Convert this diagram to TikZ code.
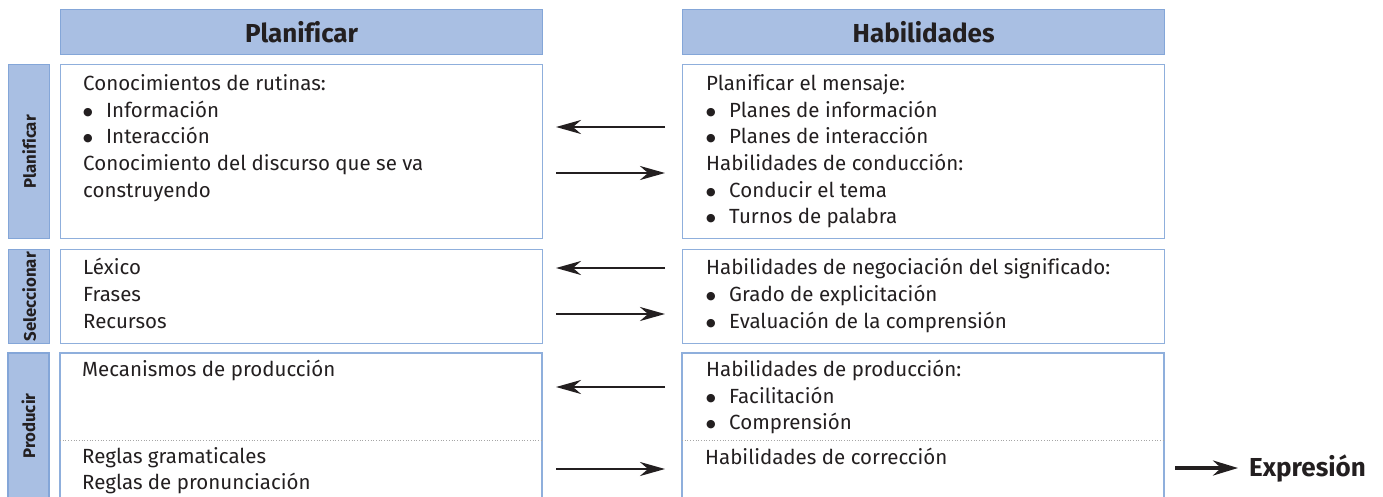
\documentclass[tikz,border=0pt]{standalone}
\usepackage{fontspec}
\setmainfont{Fira Sans}[Ligatures=NoCommon]
\newfontfamily\bulfont{DejaVu Sans}
\usetikzlibrary{arrows.meta}
\definecolor{hdrfill}{HTML}{A9BFE3}
\definecolor{hdrline}{HTML}{84A6D8}
\definecolor{boxline}{HTML}{8FAFDC}
\definecolor{ink}{HTML}{231F20}
\newcommand{\bodyf}{\fontsize{20.5}{26.7}\selectfont}
\newcommand{\bul}{\makebox[23pt][l]{\raisebox{1.3pt}{\fontsize{11}{11}\bulfont ●}}}
\tikzset{
  txt/.style={anchor=base west, inner sep=0pt, font=\bodyf, text=ink},
  hdr/.style={draw=hdrline, fill=hdrfill, line width=1.3pt, anchor=north west, inner sep=0pt,
    font=\fontsize{26}{30}\selectfont\bfseries, text=ink},
  side/.style={draw=hdrline, fill=hdrfill, line width=1.3pt, anchor=north west, inner sep=0pt},
  sidetxt/.style={rotate=90, inner sep=0pt, font=\fontsize{16.8}{20}\selectfont\bfseries, text=ink},
  boxr/.style={draw=boxline, line width=1.3pt, anchor=north west, inner sep=0pt},
  arr/.style={draw=ink, line width=2.6pt, -{Stealth[length=25pt,width=14pt,inset=8pt]}},
  arrbig/.style={draw=ink, line width=3.6pt, -{Stealth[length=25pt,width=15pt,inset=8pt]}},
  sep/.style={draw=gray!70, dotted, line width=0.7pt},
}
\begin{document}
\begin{tikzpicture}[x=1pt,y=-1pt]
\useasboundingbox (0,0) rectangle (1383,496);
% headers
\node[hdr, minimum width=482pt, minimum height=45pt] (hL) at (60,9) {Planificar};
\node[hdr, minimum width=482pt, minimum height=45pt] (hR) at (682,9) {Habilidades};
% side labels
\node[side, minimum width=41pt, minimum height=174pt] (s1) at (8,64) {};
\node[sidetxt] (s1t) at (s1.center) {Planificar};
\node[side, minimum width=41pt, minimum height=94pt] (s2) at (8,249) {};
\node[sidetxt] (s2t) at (s2.center) {Seleccionar};
\coordinate (s3a) at (8,498);
\coordinate (s3b) at (8,353);
\coordinate (s3c) at (49,353);
\coordinate (s3d) at (49,498);
\path[fill=hdrfill] (s3a) -- (s3b) -- (s3c) -- (s3d) -- cycle;
\draw[draw=hdrline, line width=1.3pt] (s3a) -- (s3b) -- (s3c) -- (s3d);
\node[sidetxt] (s3t) at (28.5,426) {Producir};
% boxes rows 1-2
\node[boxr, minimum width=482pt, minimum height=174pt] (lb1) at (60,64) {};
\node[boxr, minimum width=482pt, minimum height=174pt] (rb1) at (682,64) {};
\node[boxr, minimum width=482pt, minimum height=94pt] (lb2) at (60,249) {};
\node[boxr, minimum width=482pt, minimum height=94pt] (rb2) at (682,249) {};
% row 3 open boxes
\coordinate (l3a) at (60,498);
\coordinate (l3b) at (60,353);
\coordinate (l3c) at (542,353);
\coordinate (l3d) at (542,498);
\draw[draw=boxline, line width=1.3pt] (l3a) -- (l3b) -- (l3c) -- (l3d);
\coordinate (r3a) at (682,498);
\coordinate (r3b) at (682,353);
\coordinate (r3c) at (1164,353);
\coordinate (r3d) at (1164,498);
\draw[draw=boxline, line width=1.3pt] (r3a) -- (r3b) -- (r3c) -- (r3d);
\coordinate (dl0) at (60,440);
\coordinate (dl1) at (542,440);
\coordinate (dr0) at (682,440);
\coordinate (dr1) at (1164,440);
\draw[sep] (dl0) -- (dl1);
\draw[sep] (dr0) -- (dr1);
% left texts
\node[txt] (t1) at (83,90) {Conocimientos de rutinas:};
\node[txt] (t2) at (83,117) {\bul Información};
\node[txt] (t3) at (83,143) {\bul Interacción};
\node[txt] (t4) at (83,170) {Conocimiento del discurso que se va};
\node[txt] (t5) at (83,197) {construyendo};
\node[txt] (t6) at (83,274) {Léxico};
\node[txt] (t7) at (83,301) {Frases};
\node[txt] (t8) at (83,328) {Recursos};
\node[txt] (t9) at (82,376) {Mecanismos de producción};
\node[txt] (t10) at (82,463) {Reglas gramaticales};
\node[txt] (t11) at (82,489) {Reglas de pronunciación};
% right texts
\node[txt] (u1) at (706,90) {Planificar el mensaje:};
\node[txt] (u2) at (706,117) {\bul Planes de información};
\node[txt] (u3) at (706,143) {\bul Planes de interacción};
\node[txt] (u4) at (706,170) {Habilidades de conducción:};
\node[txt] (u5) at (706,197) {\bul Conducir el tema};
\node[txt] (u6) at (706,223) {\bul Turnos de palabra};
\node[txt] (u7) at (706,274) {Habilidades de negociación del significado:};
\node[txt] (u8) at (706,301) {\bul Grado de explicitación};
\node[txt] (u9) at (706,328) {\bul Evaluación de la comprensión};
\node[txt] (u10) at (706,376) {Habilidades de producción:};
\node[txt] (u11) at (706,403) {\bul Facilitación};
\node[txt] (u12) at (706,429) {\bul Comprensión};
\node[txt] (u13) at (705,464) {Habilidades de corrección};
% arrows
\foreach \n/\y in {a/127,b/173,c/268,d/314,e/387,f/469}{
  \coordinate (\n L) at (556,\y);
  \coordinate (\n R) at (665,\y);
}
\draw[arr] (aR) -- (aL);
\draw[arr] (bL) -- (bR);
\draw[arr] (cR) -- (cL);
\draw[arr] (dL) -- (dR);
\draw[arr] (eR) -- (eL);
\draw[arr] (fL) -- (fR);
% expresion
\node[anchor=base west, inner sep=0pt, font=\fontsize{26}{30}\selectfont\bfseries, text=ink] (ex) at (1249,476) {Expresión};
\coordinate (ex0) at (1175,468);
\coordinate (ex1) at (1238,468);
\draw[arrbig] (ex0) -- (ex1);
\end{tikzpicture}
\end{document}
